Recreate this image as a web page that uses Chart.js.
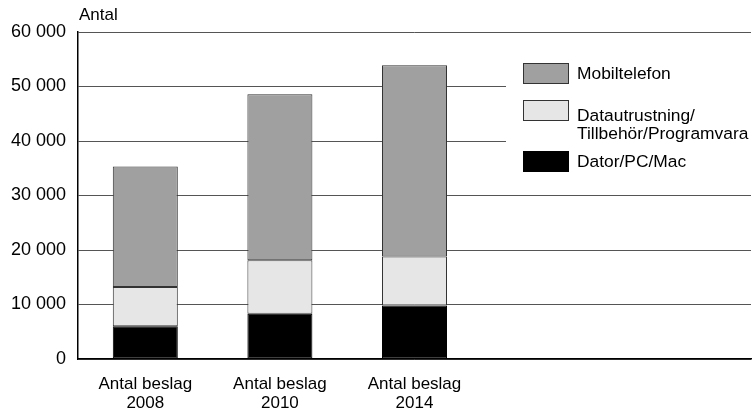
<!DOCTYPE html>
<html>
<head>
<meta charset="utf-8">
<script src="https://cdn.jsdelivr.net/npm/chart.js@4/dist/chart.umd.min.js"></script>
<style>
  html, body { margin: 0; padding: 0; background: #fff; }
  #wrap { width: 754px; height: 414px; position: relative; }
</style>
</head>
<body>
<div id="wrap"><canvas id="c" width="754" height="414"></canvas></div>
<script>
// Categories (two trailing slots are left empty on the axis)
const categories = [
  ['Antal beslag', '2008'],
  ['Antal beslag', '2010'],
  ['Antal beslag', '2014'],
  '',
  ''
];

// Stacked series, bottom to top
const datorPcMac = [6000, 8300, 9800, null, null];
const datautrustning = [7200, 9800, 9000, null, null];
const mobiltelefon = [22100, 30500, 35100, null, 100];

const yTicks = [0, 10000, 20000, 30000, 40000, 50000, 60000];
const yTitle = 'Antal';

const legendItems = [
  { lines: ['Mobiltelefon'], fill: '#a0a0a0', border: '#333333' },
  { lines: ['Datautrustning/', 'Tillbehör/Programvara'], fill: '#e6e6e6', border: '#333333' },
  { lines: ['Dator/PC/Mac'], fill: '#000000', border: '#000000' }
];

const FONT = '"Liberation Sans", Arial, Helvetica, sans-serif';

function fmt(v) {
  return String(v).replace(/\B(?=(\d{3})+(?!\d))/g, ' ');
}

// Axis title above the value axis and a boxed legend inside the plot
const overlay = {
  id: 'overlay',
  afterDraw(chart) {
    const ctx = chart.ctx;
    const a = chart.chartArea;
    ctx.save();
    ctx.font = '17px ' + FONT;
    ctx.fillStyle = '#000';
    ctx.textAlign = 'left';
    ctx.textBaseline = 'middle';
    ctx.fillText(yTitle, a.left + 1, 15);

    // legend backdrop
    ctx.fillStyle = '#fff';
    ctx.fillRect(506, 40, a.right - 506 + 1, 146);

    ctx.font = '17.4px ' + FONT;
    const rows = [73.5, 110.5, 161.5];
    const textY = [[74], [116.5, 134.5], [162.5]];
    legendItems.forEach((it, i) => {
      const by = rows[i] - 10.5;
      ctx.fillStyle = it.fill;
      ctx.fillRect(523, by, 46, 21);
      ctx.strokeStyle = it.border;
      ctx.lineWidth = 1;
      ctx.strokeRect(523.5, by + 0.5, 45, 20);
      ctx.fillStyle = '#000';
      it.lines.forEach((ln, j) => ctx.fillText(ln, 577, textY[i][j]));
    });
    ctx.restore();
  }
};

new Chart(document.getElementById('c'), {
  type: 'bar',
  data: {
    labels: categories,
    datasets: [
      { label: 'Dator/PC/Mac', data: datorPcMac, backgroundColor: '#000000', borderColor: '#000000', borderWidth: 1 },
      { label: 'Datautrustning/Tillbehör/Programvara', data: datautrustning, backgroundColor: '#e6e6e6', borderColor: '#333333', borderWidth: 1 },
      { label: 'Mobiltelefon', data: mobiltelefon, backgroundColor: '#a0a0a0', borderColor: '#333333', borderWidth: 1 }
    ]
  },
  options: {
    responsive: false,
    animation: false,
    devicePixelRatio: 1,
    layout: { padding: { top: 32, right: 3, left: 0, bottom: 0 } },
    datasets: { bar: { categoryPercentage: 1, barPercentage: 0.483, borderSkipped: false } },
    plugins: { legend: { display: false }, tooltip: { enabled: false } },
    scales: {
      x: {
        stacked: true,
        afterFit(s) { s.height = 55; },
        grid: { display: false, drawTicks: false },
        border: { display: true, color: '#000', width: 1.5 },
        ticks: {
          padding: 16,
          color: '#000',
          font: { family: FONT, size: 17, lineHeight: 1.12 },
          maxRotation: 0,
          autoSkip: false
        }
      },
      y: {
        stacked: true,
        min: 0,
        max: 60000,
        afterFit(s) { s.width = 78; },
        afterBuildTicks(s) { s.ticks = yTicks.map(v => ({ value: v })); },
        grid: { color: '#555', lineWidth: 1, drawTicks: false },
        border: { display: true, color: '#000', width: 1.5 },
        ticks: {
          padding: 12,
          color: '#000',
          font: { family: FONT, size: 18 },
          callback: v => fmt(v)
        }
      }
    }
  },
  plugins: [overlay]
});
</script>
</body>
</html>
